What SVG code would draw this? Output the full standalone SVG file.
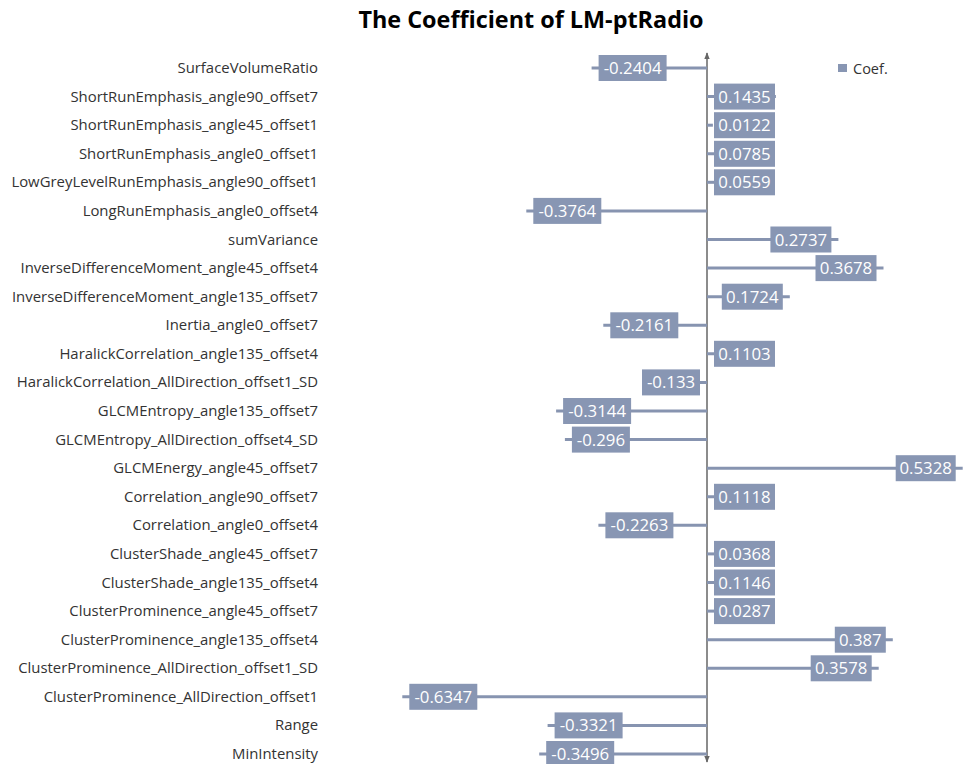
<svg xmlns="http://www.w3.org/2000/svg" width="970" height="764" viewBox="0 0 970 764">
<style>
.lbl{font-family:"Open Sans","Liberation Sans",sans-serif;font-size:14.9px;fill:#333;text-anchor:end}
.bar{stroke:#8794b0;stroke-width:3;fill:none}
.box{fill:#8896b3}
.val{font-family:"Open Sans","Liberation Sans",sans-serif;font-size:16.8px;fill:#fff;text-anchor:middle}
.title{font-family:"Open Sans","Liberation Sans",sans-serif;font-size:23.4px;font-weight:bold;fill:#000;text-anchor:middle}
</style>
<defs>
<marker id="arr" viewBox="0 0 10 10" refX="9" refY="5" markerWidth="7" markerHeight="7" orient="auto-start-reverse" markerUnits="userSpaceOnUse">
<path d="M0,1 L10,5 L0,9 z" fill="#666"/>
</marker>
</defs>
<rect width="970" height="764" fill="#fff"/>
<text class="title" x="531" y="28">The Coefficient of LM-ptRadio</text>
<g id="legend">
<rect x="838" y="64" width="9" height="8" class="box"/>
<text x="853" y="73.5" style="font-family:'Open Sans','Liberation Sans',sans-serif;font-size:14.5px;fill:#333">Coef.</text>
</g>
<g id="connectors">
<line x1="707" y1="762" x2="707" y2="53" stroke="#666" stroke-width="1.5" marker-start="url(#arr)" marker-end="url(#arr)"/>
<line class="bar" x1="707" y1="68" x2="591.6" y2="68"/>
<line class="bar" x1="707" y1="96.6" x2="775.9" y2="96.6"/>
<line class="bar" x1="707" y1="125.2" x2="712.9" y2="125.2"/>
<line class="bar" x1="707" y1="153.8" x2="744.7" y2="153.8"/>
<line class="bar" x1="707" y1="182.3" x2="733.8" y2="182.3"/>
<line class="bar" x1="707" y1="210.9" x2="526.3" y2="210.9"/>
<line class="bar" x1="707" y1="239.5" x2="838.4" y2="239.5"/>
<line class="bar" x1="707" y1="268.1" x2="883.5" y2="268.1"/>
<line class="bar" x1="707" y1="296.7" x2="789.8" y2="296.7"/>
<line class="bar" x1="707" y1="325.3" x2="603.3" y2="325.3"/>
<line class="bar" x1="707" y1="353.8" x2="759.9" y2="353.8"/>
<line class="bar" x1="707" y1="382.4" x2="643.2" y2="382.4"/>
<line class="bar" x1="707" y1="411" x2="556.1" y2="411"/>
<line class="bar" x1="707" y1="439.6" x2="564.9" y2="439.6"/>
<line class="bar" x1="707" y1="468.2" x2="962.7" y2="468.2"/>
<line class="bar" x1="707" y1="496.8" x2="760.7" y2="496.8"/>
<line class="bar" x1="707" y1="525.3" x2="598.4" y2="525.3"/>
<line class="bar" x1="707" y1="553.9" x2="724.7" y2="553.9"/>
<line class="bar" x1="707" y1="582.5" x2="762" y2="582.5"/>
<line class="bar" x1="707" y1="611.1" x2="720.8" y2="611.1"/>
<line class="bar" x1="707" y1="639.7" x2="892.8" y2="639.7"/>
<line class="bar" x1="707" y1="668.3" x2="878.7" y2="668.3"/>
<line class="bar" x1="707" y1="696.8" x2="402.3" y2="696.8"/>
<line class="bar" x1="707" y1="725.4" x2="547.6" y2="725.4"/>
<line class="bar" x1="707" y1="754" x2="539.2" y2="754"/>
</g>
<g id="r0"><text class="lbl" x="318" y="73">SurfaceVolumeRatio</text><rect class="box" x="598.6" y="55" width="68" height="26"/><text class="val" x="632.6" y="74">-0.2404</text></g>
<g id="r1"><text class="lbl" x="318" y="101.6">ShortRunEmphasis_angle90_offset7</text><rect class="box" x="714" y="83.6" width="61" height="26"/><text class="val" x="744.5" y="102.6">0.1435</text></g>
<g id="r2"><text class="lbl" x="318" y="130.2">ShortRunEmphasis_angle45_offset1</text><rect class="box" x="714" y="112.2" width="61" height="26"/><text class="val" x="744.5" y="131.2">0.0122</text></g>
<g id="r3"><text class="lbl" x="318" y="158.8">ShortRunEmphasis_angle0_offset1</text><rect class="box" x="714" y="140.8" width="61" height="26"/><text class="val" x="744.5" y="159.8">0.0785</text></g>
<g id="r4"><text class="lbl" x="318" y="187.3">LowGreyLevelRunEmphasis_angle90_offset1</text><rect class="box" x="714" y="169.3" width="61" height="26"/><text class="val" x="744.5" y="188.3">0.0559</text></g>
<g id="r5"><text class="lbl" x="318" y="215.9">LongRunEmphasis_angle0_offset4</text><rect class="box" x="533.3" y="197.9" width="68" height="26"/><text class="val" x="567.3" y="216.9">-0.3764</text></g>
<g id="r6"><text class="lbl" x="318" y="244.5">sumVariance</text><rect class="box" x="770.4" y="226.5" width="61" height="26"/><text class="val" x="800.9" y="245.5">0.2737</text></g>
<g id="r7"><text class="lbl" x="318" y="273.1">InverseDifferenceMoment_angle45_offset4</text><rect class="box" x="815.5" y="255.1" width="61" height="26"/><text class="val" x="846" y="274.1">0.3678</text></g>
<g id="r8"><text class="lbl" x="318" y="301.7">InverseDifferenceMoment_angle135_offset7</text><rect class="box" x="721.8" y="283.7" width="61" height="26"/><text class="val" x="752.3" y="302.7">0.1724</text></g>
<g id="r9"><text class="lbl" x="318" y="330.3">Inertia_angle0_offset7</text><rect class="box" x="610.3" y="312.3" width="68" height="26"/><text class="val" x="644.3" y="331.3">-0.2161</text></g>
<g id="r10"><text class="lbl" x="318" y="358.8">HaralickCorrelation_angle135_offset4</text><rect class="box" x="714" y="340.8" width="61" height="26"/><text class="val" x="744.5" y="359.8">0.1103</text></g>
<g id="r11"><text class="lbl" x="318" y="387.4">HaralickCorrelation_AllDirection_offset1_SD</text><rect class="box" x="642" y="369.4" width="58" height="26"/><text class="val" x="671" y="388.4">-0.133</text></g>
<g id="r12"><text class="lbl" x="318" y="416">GLCMEntropy_angle135_offset7</text><rect class="box" x="563.1" y="398" width="68" height="26"/><text class="val" x="597.1" y="417">-0.3144</text></g>
<g id="r13"><text class="lbl" x="318" y="444.6">GLCMEntropy_AllDirection_offset4_SD</text><rect class="box" x="571.9" y="426.6" width="58" height="26"/><text class="val" x="600.9" y="445.6">-0.296</text></g>
<g id="r14"><text class="lbl" x="318" y="473.2">GLCMEnergy_angle45_offset7</text><rect class="box" x="895.7" y="455.2" width="60" height="26"/><text class="val" x="925.7" y="474.2">0.5328</text></g>
<g id="r15"><text class="lbl" x="318" y="501.8">Correlation_angle90_offset7</text><rect class="box" x="714" y="483.8" width="61" height="26"/><text class="val" x="744.5" y="502.8">0.1118</text></g>
<g id="r16"><text class="lbl" x="318" y="530.3">Correlation_angle0_offset4</text><rect class="box" x="605.4" y="512.3" width="68" height="26"/><text class="val" x="639.4" y="531.3">-0.2263</text></g>
<g id="r17"><text class="lbl" x="318" y="558.9">ClusterShade_angle45_offset7</text><rect class="box" x="714" y="540.9" width="61" height="26"/><text class="val" x="744.5" y="559.9">0.0368</text></g>
<g id="r18"><text class="lbl" x="318" y="587.5">ClusterShade_angle135_offset4</text><rect class="box" x="714" y="569.5" width="61" height="26"/><text class="val" x="744.5" y="588.5">0.1146</text></g>
<g id="r19"><text class="lbl" x="318" y="616.1">ClusterProminence_angle45_offset7</text><rect class="box" x="714" y="598.1" width="61" height="26"/><text class="val" x="744.5" y="617.1">0.0287</text></g>
<g id="r20"><text class="lbl" x="318" y="644.7">ClusterProminence_angle135_offset4</text><rect class="box" x="834.8" y="626.7" width="51" height="26"/><text class="val" x="860.3" y="645.7">0.387</text></g>
<g id="r21"><text class="lbl" x="318" y="673.3">ClusterProminence_AllDirection_offset1_SD</text><rect class="box" x="810.7" y="655.3" width="61" height="26"/><text class="val" x="841.2" y="674.3">0.3578</text></g>
<g id="r22"><text class="lbl" x="318" y="701.8">ClusterProminence_AllDirection_offset1</text><rect class="box" x="409.3" y="683.8" width="68" height="26"/><text class="val" x="443.3" y="702.8">-0.6347</text></g>
<g id="r23"><text class="lbl" x="318" y="730.4">Range</text><rect class="box" x="554.6" y="712.4" width="68" height="26"/><text class="val" x="588.6" y="731.4">-0.3321</text></g>
<g id="r24"><text class="lbl" x="318" y="759">MinIntensity</text><rect class="box" x="546.2" y="741" width="68" height="26"/><text class="val" x="580.2" y="760">-0.3496</text></g>
</svg>
